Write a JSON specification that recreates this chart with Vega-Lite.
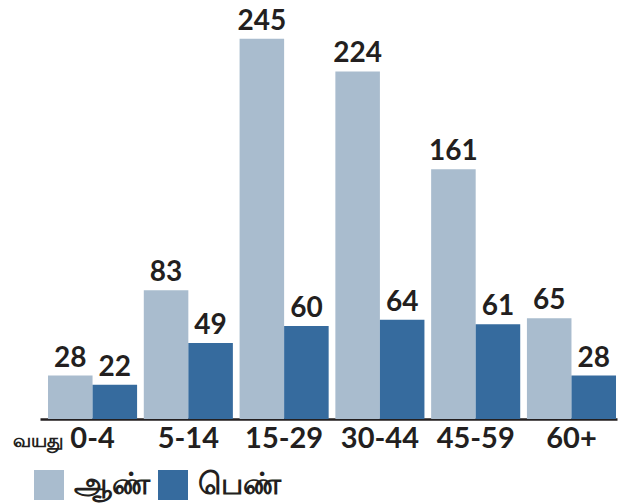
{
  "$schema": "https://vega.github.io/schema/vega-lite/v6.json",
  "width": 577,
  "height": 419,
  "autosize": "none",
  "padding": {"left": 40, "top": 0, "right": 5, "bottom": 84},
  "background": "white",
  "data": {
    "values": [
      {"age": "0-4", "sex": "ஆண்", "count": 28},
      {"age": "0-4", "sex": "பெண்", "count": 22},
      {"age": "5-14", "sex": "ஆண்", "count": 83},
      {"age": "5-14", "sex": "பெண்", "count": 49},
      {"age": "15-29", "sex": "ஆண்", "count": 245},
      {"age": "15-29", "sex": "பெண்", "count": 60},
      {"age": "30-44", "sex": "ஆண்", "count": 224},
      {"age": "30-44", "sex": "பெண்", "count": 64},
      {"age": "45-59", "sex": "ஆண்", "count": 161},
      {"age": "45-59", "sex": "பெண்", "count": 61},
      {"age": "60+", "sex": "ஆண்", "count": 65},
      {"age": "60+", "sex": "பெண்", "count": 28}
    ]
  },
  "config": {
    "view": {"stroke": null},
    "font": "Lato"
  },
  "encoding": {
    "x": {
      "field": "age",
      "type": "nominal",
      "sort": ["0-4", "5-14", "15-29", "30-44", "45-59", "60+"],
      "scale": {"paddingInner": 0.07, "paddingOuter": 0.047, "align": 0.89},
      "axis": {
        "title": "வயது",
        "titleFontSize": 19,
        "titleFontWeight": "bold",
        "titleColor": "#231f20",
        "titleAlign": "center",
        "titleBaseline": "middle",
        "titleX": -3,
        "titleY": 21,
        "labelAngle": 0,
        "labelFontSize": 29,
        "labelFontWeight": "bold",
        "labelColor": "#231f20",
        "labelPadding": 5,
        "ticks": false,
        "domainColor": "#231f20",
        "domainWidth": 2.5,
        "grid": false
      }
    },
    "xOffset": {
      "field": "sex",
      "type": "nominal",
      "sort": ["ஆண்", "பெண்"],
      "scale": {"paddingInner": 0, "paddingOuter": 0}
    },
    "y": {
      "field": "count",
      "type": "quantitative",
      "scale": {"domain": [0, 270]},
      "axis": null
    }
  },
  "layer": [
    {
      "mark": {"type": "bar"},
      "encoding": {
        "color": {
          "field": "sex",
          "type": "nominal",
          "sort": ["ஆண்", "பெண்"],
          "scale": {"domain": ["ஆண்", "பெண்"], "range": ["#a9bcce", "#366b9e"]},
          "legend": {
            "title": null,
            "orient": "none",
            "legendX": -6,
            "legendY": 470,
            "direction": "horizontal",
            "symbolType": "square",
            "symbolSize": 900,
            "symbolStrokeWidth": 0,
            "symbolOpacity": 1,
            "labelFontSize": 30,
            "labelFontWeight": "bold",
            "labelColor": "#231f20",
            "labelOffset": 10,
            "columnPadding": 8
          }
        }
      }
    },
    {
      "mark": {"type": "text", "baseline": "alphabetic", "dy": -9, "fontSize": 28, "fontWeight": "bold", "color": "#231f20"},
      "encoding": {
        "text": {"field": "count", "type": "quantitative"}
      }
    }
  ]
}
